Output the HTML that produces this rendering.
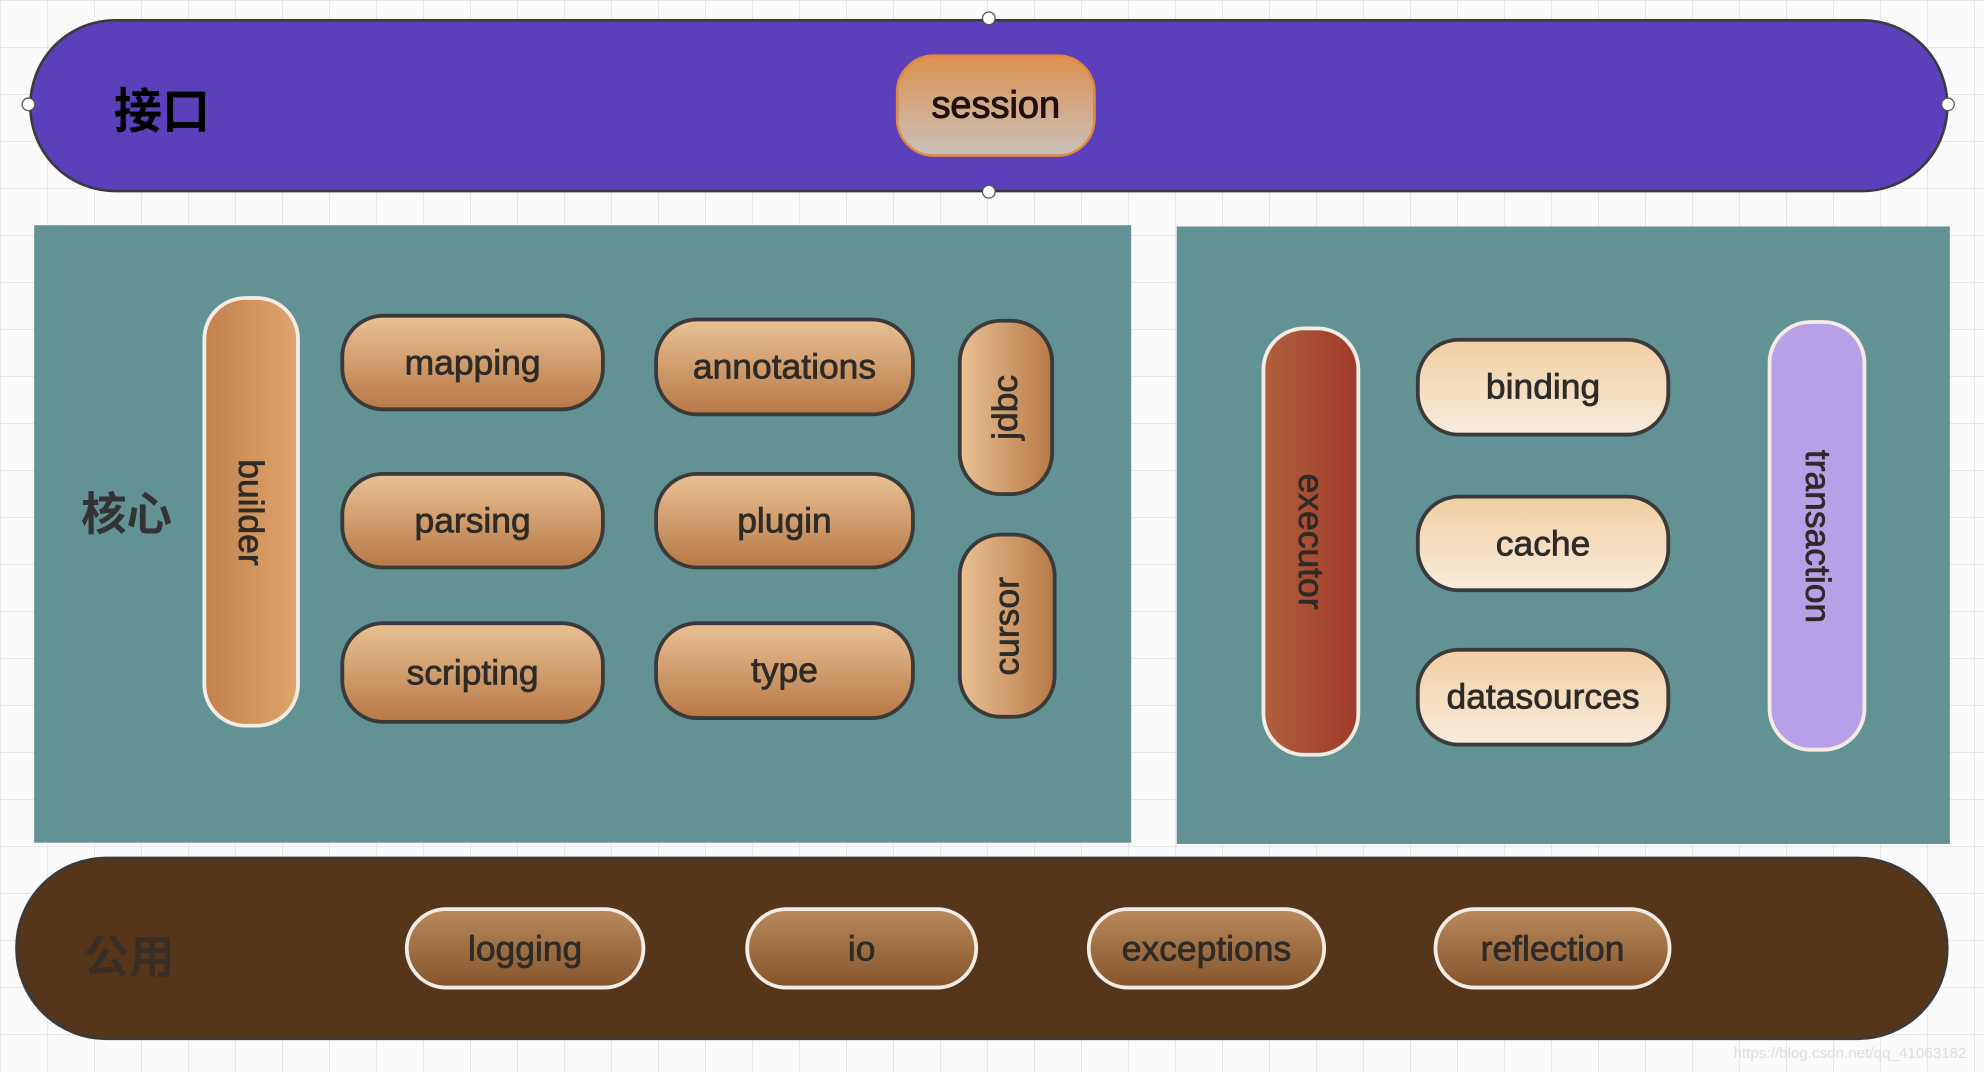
<!DOCTYPE html>
<html><head><meta charset="utf-8"><style>
html,body{margin:0;padding:0;}
body{width:1984px;height:1072px;overflow:hidden;background:#fafafa;
background-image:linear-gradient(#e6e6e6 1px,transparent 1px),linear-gradient(90deg,#e6e6e6 1px,transparent 1px);background-size:47px 47px;}
#s{position:absolute;left:0;top:0;width:1568px;height:847px;transform:scale(1.26531);transform-origin:0 0;font-family:"Liberation Sans","Noto Sans CJK SC",sans-serif;}
.a{position:absolute;box-sizing:border-box;}
.p{position:absolute;box-sizing:border-box;display:flex;align-items:center;justify-content:center;font-size:28px;color:#2e2a26;border-radius:34px;-webkit-text-stroke:0.6px #2e2a26;}
.c{background:linear-gradient(#e8c094,#b97a47);border:3px solid #3a3a3a;}
.cr{background:linear-gradient(#f0cfa2,#f8ebdc);border:3px solid #3a3a3a;}
.b{background:linear-gradient(#b8895c,#86552c);border:3px solid #f4ece4;}
.v span{transform:rotate(90deg);white-space:nowrap;display:block;}
.dot{position:absolute;width:9px;height:9px;border-radius:50%;background:#fff;border:1.5px solid #555;transform:translate(-6px,-6px);}
</style></head><body><div id="s">
<div class="a" style="left:23px;top:15px;width:1517px;height:137px;border-radius:68px;background:#5c3fba;border:2px solid #3a3a3a;"></div>
<div class="dot" style="left:782px;top:15px"></div><div class="dot" style="left:782px;top:152px"></div>
<div class="dot" style="left:23px;top:83px"></div><div class="dot" style="left:1540px;top:83px"></div>
<div class="a" style="left:90px;top:57px;font-size:38px;font-weight:bold;color:#000;">接口</div>
<div class="p" style="left:708px;top:43px;width:158px;height:81px;border-radius:30px;background:linear-gradient(#dd9150,#c9c1b9);border:2px solid #e08a40;font-size:30px;color:#1e1010;-webkit-text-stroke:0.8px #1e1010;">session</div>

<div class="a" style="left:27px;top:178px;width:867px;height:488px;background:#639295;"></div>
<div class="a" style="left:930px;top:179px;width:611px;height:488px;background:#639295;"></div>
<div class="a" style="left:64px;top:378px;font-size:36px;font-weight:bold;color:#333;">核心</div>

<div class="p v" style="left:160px;top:234px;width:77px;height:341px;background:linear-gradient(90deg,#c2824b,#dea46c);border:3px solid #f4ece4;"><span>builder</span></div>
<div class="p c" style="left:269px;top:248px;width:209px;height:77px;">mapping</div>
<div class="p c" style="left:517px;top:251px;width:206px;height:78px;">annotations</div>
<div class="p c" style="left:269px;top:373px;width:209px;height:77px;">parsing</div>
<div class="p c" style="left:517px;top:373px;width:206px;height:77px;">plugin</div>
<div class="p c" style="left:269px;top:491px;width:209px;height:81px;">scripting</div>
<div class="p c" style="left:517px;top:491px;width:206px;height:78px;">type</div>
<div class="p v" style="left:757px;top:252px;width:76px;height:140px;background:linear-gradient(90deg,#e8c094,#b97a47);border:3px solid #3a3a3a;"><span style="transform:rotate(-90deg)">jdbc</span></div>
<div class="p v" style="left:757px;top:421px;width:78px;height:147px;background:linear-gradient(90deg,#e8c094,#b97a47);border:3px solid #3a3a3a;"><span style="transform:rotate(-90deg)">cursor</span></div>

<div class="p v" style="left:997px;top:258px;width:78px;height:340px;background:linear-gradient(90deg,#b0603e,#a03a2a);border:3px solid #f4ece4;"><span>executor</span></div>
<div class="p cr" style="left:1119px;top:267px;width:201px;height:78px;">binding</div>
<div class="p cr" style="left:1119px;top:391px;width:201px;height:77px;">cache</div>
<div class="p cr" style="left:1119px;top:512px;width:201px;height:78px;">datasources</div>
<div class="p v" style="left:1397px;top:253px;width:78px;height:341px;background:#b8a0e8;border:3px solid #f4ece4;"><span>transaction</span></div>

<div class="a" style="left:12px;top:677px;width:1528px;height:145px;border-radius:72px;background:#55361b;border:2px solid #3a3a3a;"></div>
<div class="a" style="left:66px;top:728px;font-size:36px;font-weight:bold;color:#3a2e24;">公用</div>
<div class="p b" style="left:320px;top:717px;width:190px;height:65px;">logging</div>
<div class="p b" style="left:589px;top:717px;width:184px;height:65px;">io</div>
<div class="p b" style="left:859px;top:717px;width:189px;height:65px;">exceptions</div>
<div class="p b" style="left:1133px;top:717px;width:188px;height:65px;">reflection</div>
<div class="a" style="left:1370px;top:825px;font-size:12px;color:#ddd;">https://blog.csdn.net/qq_41063182</div>
</div></body></html>
